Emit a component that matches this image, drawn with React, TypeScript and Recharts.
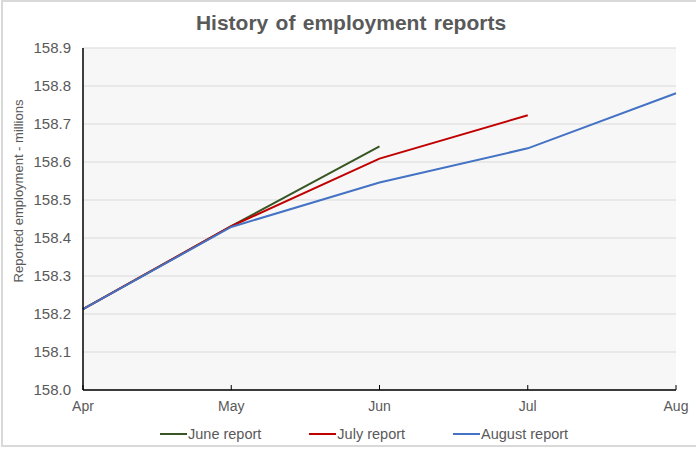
import React from 'react';
import { LineChart, Line, XAxis, YAxis, CartesianGrid, Legend } from 'recharts';

const months = ['Apr', 'May', 'Jun', 'Jul', 'Aug'];
const juneReport = [158.213, 158.431, 158.641, null, null];
const julyReport = [158.213, 158.431, 158.609, 158.723, null];
const augustReport = [158.213, 158.429, 158.546, 158.636, 158.781];
const yTicks = [158.0, 158.1, 158.2, 158.3, 158.4, 158.5, 158.6, 158.7, 158.8, 158.9];

const seriesInfo = [
  { key: 'june', name: 'June report', color: '#375623' },
  { key: 'july', name: 'July report', color: '#c00000' },
  { key: 'august', name: 'August report', color: '#4472c4' },
];

const data = months.map((m, i) => ({
  month: m,
  june: juneReport[i],
  july: julyReport[i],
  august: augustReport[i],
}));

const FONT = "'Liberation Sans', Arial, sans-serif";
const TEXT = '#595959';
const X_TICK_MARGIN = 11;

const XTick = (props: any) => {
  const { x, y, payload } = props;
  const axisY = y - X_TICK_MARGIN;
  return (
    <g>
      <line x1={x} y1={axisY} x2={x} y2={axisY - 5} stroke="#000" strokeWidth={1} />
      <text x={x} y={y} dy="0.71em" textAnchor="middle" fill={TEXT} fontSize={14} fontFamily={FONT}>
        {payload.value}
      </text>
    </g>
  );
};

const YLabel = (props: any) => {
  const vb = props.viewBox || {};
  const cx = 18;
  const cy = (vb.y ?? 48) + (vb.height ?? 342) / 2 - 28;
  return (
    <text
      x={cx}
      y={cy}
      transform={`rotate(-90, ${cx}, ${cy})`}
      textAnchor="middle"
      dominantBaseline="central"
      fill={TEXT}
      fontSize={13}
      fontFamily={FONT}
    >
      Reported employment - millions
    </text>
  );
};

const LegendContent = () => (
  <div style={{ display: 'flex', height: 20, alignItems: 'center', fontFamily: FONT, fontSize: 14.5, color: TEXT }}>
    {seriesInfo.map((s, i) => (
      <div key={s.key} style={{ display: 'flex', alignItems: 'center', marginRight: i < seriesInfo.length - 1 ? 48 : 0 }}>
        <div style={{ width: 27, height: 2, background: s.color, marginRight: 1 }} />
        <span style={{ whiteSpace: 'nowrap' }}>{s.name}</span>
      </div>
    ))}
  </div>
);

export default function App() {
  return (
    <div style={{ position: 'absolute', left: 0, top: 0, width: 696, height: 450, background: '#fff', fontFamily: FONT }}>
      <div
        style={{
          position: 'absolute',
          left: 1,
          top: 0,
          width: 695,
          height: 447,
          borderTop: '2px solid #d9d9d9',
          borderLeft: '2px solid #d9d9d9',
          borderBottom: '2px solid #d9d9d9',
          boxSizing: 'border-box',
        }}
      />
      <div
        style={{
          position: 'absolute',
          left: 6,
          top: 12,
          width: 690,
          textAlign: 'center',
          fontSize: 21,
          lineHeight: '21px',
          fontWeight: 'bold',
          color: TEXT,
          wordSpacing: 1.5,
          whiteSpace: 'nowrap',
        }}
      >
        History of employment reports
      </div>
      <LineChart
        width={696}
        height={450}
        data={data}
        margin={{ top: 48, right: 20, left: 0, bottom: 10 }}
        style={{ position: 'absolute', left: 0, top: 0 }}
      >
        <CartesianGrid fill="#f7f7f7" vertical={false} stroke="#d9d9d9" />
        <XAxis
          dataKey="month"
          height={30}
          tickLine={false}
          tickSize={0}
          tickMargin={X_TICK_MARGIN}
          axisLine={{ stroke: '#000', strokeWidth: 1.5 }}
          tick={<XTick />}
          interval={0}
        />
        <XAxis xAxisId="top" orientation="top" dataKey="month" height={0} tick={false} tickLine={false} axisLine={{ stroke: '#000', strokeWidth: 1.5 }} />
        <YAxis
          width={83}
          domain={[158.0, 158.9]}
          ticks={yTicks}
          tickFormatter={(v: number) => v.toFixed(1)}
          tickLine={false}
          tickSize={0}
          tickMargin={12}
          axisLine={{ stroke: '#000', strokeWidth: 1.5 }}
          tick={{ fill: TEXT, fontSize: 15, fontFamily: FONT }}
          label={<YLabel />}
          interval={0}
        />
        <YAxis yAxisId="right" orientation="right" width={0} tick={false} tickLine={false} axisLine={{ stroke: '#000', strokeWidth: 1.5 }} />
        <Legend
          verticalAlign="bottom"
          content={<LegendContent />}
          wrapperStyle={{ position: 'absolute', top: 424, left: 160, bottom: 'auto', width: 'auto', height: 20 }}
        />
        {seriesInfo.map((s) => (
          <Line
            key={s.key}
            type="linear"
            dataKey={s.key}
            name={s.name}
            stroke={s.color}
            strokeWidth={2}
            dot={false}
            activeDot={false}
            isAnimationActive={false}
          />
        ))}
      </LineChart>
    </div>
  );
}
